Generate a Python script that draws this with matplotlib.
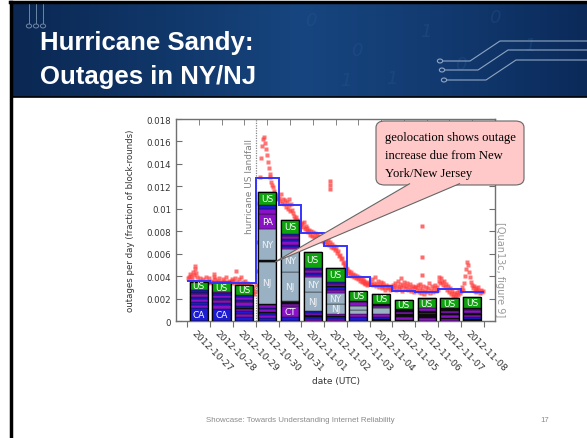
import numpy as np
import matplotlib
matplotlib.use("Agg")
import matplotlib.pyplot as plt
from matplotlib.patches import FancyBboxPatch, Polygon, Circle
from matplotlib.colors import LinearSegmentedColormap
from matplotlib.transforms import ScaledTranslation

# ---------------- data ----------------
dates = ["2012-10-27", "2012-10-28", "2012-10-29", "2012-10-30", "2012-10-31",
         "2012-11-01", "2012-11-02", "2012-11-03", "2012-11-04", "2012-11-05",
         "2012-11-06", "2012-11-07", "2012-11-08"]

# daily mean outage rate (blue step line), units 1e-3
daily_mean = [3.6, 3.43, 3.43, 12.7, 10.3, 7.8, 6.65, 3.9, 3.16, 2.7, 2.6, 2.85, 2.6]

# hourly outage samples (red points), units 1e-3, one list per day
hourly = [
    [3.8, 3.9, 4.2, 4.0, 3.7, 4.4, 4.1, 4.6, 4.9, 4.3, 3.9, 3.6, 3.5, 3.8, 3.4, 3.6, 3.7, 3.3, 3.5, 3.9, 3.6, 3.4, 3.8, 3.5],
    [3.5, 3.6, 3.4, 3.9, 4.2, 3.7, 3.5, 3.3, 3.6, 3.8, 3.4, 3.5, 3.3, 3.7, 3.6, 3.4, 3.9, 3.5, 3.3, 3.6, 3.4, 3.5, 3.7, 3.6],
    [3.6, 3.4, 3.8, 4.5, 3.5, 3.3, 3.7, 3.4, 3.9, 3.2, 3.5, 3.3, 3.6, 3.1, 3.4, 3.0, 3.3, 2.9, 3.1, 2.8, 2.6, 2.9, 2.4, 2.7],
    [3.2, 4.5, 7.0, 10.5, 12.8, 14.5, 15.6, 16.2, 16.4, 15.9, 15.3, 14.8, 14.2, 13.6, 13.1, 12.8, 12.4, 12.1, 11.9, 11.6, 11.3, 11.0, 11.2, 10.9],
    [11.0, 10.7, 11.3, 10.5, 10.9, 10.4, 10.8, 10.2, 10.6, 10.0, 10.9, 10.3, 9.8, 10.4, 9.9, 9.6, 9.4, 9.1, 9.3, 8.9, 8.7, 9.0, 8.5, 8.6],
    [8.7, 8.4, 8.8, 8.2, 8.5, 8.0, 8.3, 7.9, 8.1, 7.7, 8.0, 7.6, 7.9, 7.5, 7.8, 7.4, 7.7, 7.3, 7.6, 7.2, 7.5, 7.1, 7.4, 7.0],
    [7.3, 7.0, 7.4, 6.9, 7.2, 6.8, 7.0, 6.6, 6.9, 6.5, 6.7, 6.3, 6.5, 6.1, 6.2, 5.8, 5.9, 5.5, 5.6, 5.2, 5.3, 5.0, 4.9, 4.7],
    [4.6, 4.3, 4.5, 4.1, 4.4, 4.0, 4.2, 3.9, 4.1, 3.8, 4.0, 3.7, 3.9, 3.6, 3.8, 3.5, 3.7, 3.4, 3.6, 3.3, 3.5, 3.2, 3.4, 3.3],
    [3.5, 3.3, 3.7, 3.2, 3.4, 3.9, 3.1, 3.3, 3.6, 3.0, 3.2, 3.5, 2.9, 3.1, 3.4, 3.0, 2.8, 3.2, 3.0, 2.9, 3.1, 2.8, 3.0, 2.9],
    [3.2, 3.0, 3.4, 2.8, 3.1, 3.6, 2.9, 3.3, 3.8, 3.0, 2.7, 3.2, 3.5, 2.9, 3.1, 3.4, 2.8, 3.0, 3.3, 2.7, 2.9, 3.1, 2.6, 3.0],
    [3.0, 2.8, 3.2, 2.6, 2.9, 3.3, 2.5, 2.8, 3.1, 2.4, 2.7, 3.0, 2.6, 2.9, 3.4, 2.5, 2.8, 3.1, 2.6, 2.9, 3.2, 2.7, 3.0, 2.8],
    [3.6, 3.9, 3.4, 3.8, 3.5, 3.2, 3.6, 3.0, 3.3, 2.8, 3.1, 2.6, 2.9, 2.4, 2.7, 2.2, 2.5, 2.1, 2.4, 2.0, 2.6, 2.3, 2.8, 2.5],
    [2.7, 3.0, 2.8, 3.4, 4.0, 4.6, 5.3, 5.0, 4.4, 3.9, 3.5, 3.2, 2.9, 3.1, 2.7, 2.9, 2.6, 2.8, 3.0, 2.7, 2.5, 2.8, 2.6, 2.7],
]
# isolated outlier samples (day offset, value 1e-3)
outlier_day = [6.24, 6.25, 6.26, 10.3, 10.3, 10.31]
outlier_val = [12.5, 12.1, 11.8, 8.5, 5.7, 4.1]

# stacked per-day bars: segment heights (1e-3) and kinds, bottom to top
bar_heights = [
    [1.15, 0.3, 0.25, 0.3, 0.15, 0.25, 0.15, 0.05, 0.15, 0.75],
    [1.1, 0.3, 0.2, 0.3, 0.15, 0.25, 0.05, 0.15, 0.1, 0.85],
    [0.35, 0.25, 0.3, 0.2, 0.1, 0.15, 0.3, 0.2, 0.25, 0.25, 0.85],
    [0.3, 0.25, 0.15, 0.1, 0.25, 0.15, 0.2, 0.12, 3.78, 0.15, 2.75, 1.3, 0.5, 0.3, 1.2],
    [0.35, 1.0, 0.2, 0.1, 0.17, 2.54, 2.1, 0.15, 0.2, 0.3, 0.2, 0.25, 0.2, 1.24],
    [0.2, 0.2, 0.1, 0.2, 0.2, 1.67, 1.34, 0.2, 0.15, 0.25, 0.23, 1.41],
    [0.2, 0.15, 0.13, 0.15, 0.89, 0.98, 0.3, 0.25, 0.1, 0.15, 0.16, 1.28],
    [0.33, 0.3, 0.39, 0.35, 0.3, 0.15, 0.84],
    [0.15, 0.18, 0.3, 0.51, 0.23, 0.15, 0.9],
    [0.12, 0.21, 0.3, 0.2, 0.24, 0.83],
    [0.3, 0.3, 0.15, 0.15, 0.24, 0.89],
    [0.15, 0.15, 0.2, 0.2, 0.2, 0.26, 0.87],
    [0.15, 0.2, 0.2, 0.2, 0.2, 0.15, 0.1, 0.9],
]
bar_kinds = [
    ["CA", "p", "b", "p", "b", "p", "b", "k", "b", "US"],
    ["CA", "p", "b", "p", "b", "p", "k", "b", "p", "US"],
    ["b", "p", "b", "p", "k", "b", "p", "b", "p", "b", "US"],
    ["b", "p", "b", "k", "p", "b", "p", "k", "NJ", "k", "NY", "PA", "p", "b", "US"],
    ["b", "CT", "p", "k", "p", "NJ", "NY", "p", "b", "p", "b", "p", "b", "US"],
    ["p", "b", "k", "p", "b", "NJ", "NY", "p", "b", "p", "b", "US"],
    ["p", "b", "k", "p", "NJ", "NY", "p", "b", "k", "p", "b", "US"],
    ["b", "p", "g", "g", "p", "k", "US"],
    ["k", "b", "p", "g", "p", "k", "US"],
    ["k", "p", "k", "p", "k", "US"],
    ["p", "k", "p", "k", "p", "US"],
    ["p", "k", "p", "k", "p", "k", "US"],
    ["k", "b", "p", "k", "p", "b", "k", "US"],
]

yticks = [0, 0.002, 0.004, 0.006, 0.008, 0.010, 0.012, 0.014, 0.016, 0.018]
ytick_labels = ["0", "0.002", "0.004", "0.006", "0.008", "0.01", "0.012", "0.014", "0.016", "0.018"]

# ---------------- style ----------------
kind_color = {"b": "#1c1cd2", "p": "#8a12c6", "k": "#0c0c0c", "g": "#9ab1c3",
              "US": "#0ea30e", "CA": "#1c1cd2", "NY": "#9ab1c3", "NJ": "#9ab1c3",
              "PA": "#8a12c6", "CT": "#8a12c6"}
labelled = {"US", "CA", "NY", "NJ", "PA", "CT"}

W, H = 587, 439
fig = plt.figure(figsize=(W / 100, H / 100), dpi=100)
fig.patch.set_facecolor("white")


def fx(x):
    return x / W


def fy(y):
    return 1 - y / H


# ---------------- header ----------------
axh = fig.add_axes([fx(12), fy(98), 1 - fx(12), (98 - 4) / H])
cmap = LinearSegmentedColormap.from_list(
    "hdr", [(0, "#0b2752"), (0.25, "#103668"), (0.5, "#17457f"), (0.75, "#123a70"), (1, "#0b2a5a")])
grad = np.linspace(0, 1, 256)[None, :].repeat(2, axis=0)
axh.imshow(grad, aspect="auto", cmap=cmap, extent=[0, 1, 0, 1])
axh.set_xlim(0, 1)
axh.set_ylim(0, 1)
axh.axis("off")
# faint digits texture (kept clear of the title)
digs = [(0.52, 0.82, "0"), (0.6, 0.5, "0"), (0.66, 0.2, "1"), (0.58, 0.18, "1"),
        (0.72, 0.7, "1"), (0.78, 0.35, "0"), (0.84, 0.85, "0"), (0.9, 0.55, "1")]
for x, y, d in digs:
    axh.text(x, y, d, color="#2a5a98", fontsize=13, alpha=0.3, fontstyle="italic",
             ha="center", va="center", transform=axh.transAxes)
# circuit lines on right
for k, (yy, x0) in enumerate([(62, 440), (71, 442), (81, 444)]):
    fig.add_artist(plt.Line2D([fx(x0 + 3), fx(470 + 8 * k), fx(500 + 8 * k), fx(587)],
                              [fy(yy), fy(yy), fy(yy - 20), fy(yy - 20)],
                              color="#8fa6c4", lw=0.8, transform=fig.transFigure))
    fig.add_artist(Circle((fx(x0), fy(yy)), 0.0045, fill=False, ec="#8fa6c4", lw=0.8,
                          transform=fig.transFigure))
# decorative top-left circles
for x0 in (29, 36, 43):
    fig.add_artist(plt.Line2D([fx(x0), fx(x0)], [fy(5), fy(24)], color="#6f86a6", lw=0.7,
                              transform=fig.transFigure))
    fig.add_artist(Circle((fx(x0), fy(27)), 0.0045, fill=False, ec="#6f86a6", lw=0.7,
                          transform=fig.transFigure))
# black border lines
fig.add_artist(plt.Line2D([fx(10), fx(587)], [fy(3), fy(3)], color="black", lw=2.5,
                          transform=fig.transFigure))
fig.add_artist(plt.Line2D([fx(11), fx(11)], [fy(3), fy(439)], color="black", lw=2.5,
                          transform=fig.transFigure))
fig.add_artist(plt.Line2D([fx(11), fx(587)], [fy(98), fy(98)], color="black", lw=1.2,
                          transform=fig.transFigure))

fig.text(fx(40), fy(50), "Hurricane Sandy:", color="white", fontsize=18.5, fontweight="bold",
         family="Liberation Sans", va="baseline", ha="left")
fig.text(fx(40), fy(84), "Outages in NY/NJ", color="white", fontsize=18.5, fontweight="bold",
         family="Liberation Sans", va="baseline", ha="left")

# ---------------- chart ----------------
ax = fig.add_axes([fx(176), fy(322), (495 - 176) / W, (322 - 120) / H])
ax.set_xlim(-0.5, 13.5)
ax.set_ylim(0, 0.018)

# red samples
xs, ys = [], []
for d, vals in enumerate(hourly):
    for h, v in enumerate(vals):
        xs.append(d + (h + 0.5) / 24)
        ys.append(v * 1e-3)
ax.plot(xs, ys, "s", ms=2.6, color="#ff3a3a", alpha=0.7, mec="none", zorder=2)
ax.plot(outlier_day, np.array(outlier_val) * 1e-3, "s", ms=2.4, color="#ff3a3a", alpha=0.75,
        mec="none", zorder=2)

# stacked bars
for d, (hs, ks) in enumerate(zip(bar_heights, bar_kinds)):
    bottom = 0.0
    for h, k in zip(hs, ks):
        hv = h * 1e-3
        ax.bar(d + 0.5, hv, width=0.8, bottom=bottom, color=kind_color[k],
               edgecolor="#111111", linewidth=0.3, zorder=3)
        if k in labelled:
            tc = "#eef2f6" if k in ("NY", "NJ") else "white"
            ax.text(d + 0.5, bottom + hv / 2, k, ha="center", va="center", color=tc,
                    fontsize=6.5, zorder=5)
        bottom += hv
    ax.bar(d + 0.5, bottom, width=0.8, fill=False, edgecolor="black", linewidth=0.9, zorder=4)

# daily mean step line
ax.stairs(np.array(daily_mean) * 1e-3, np.arange(len(daily_mean) + 1), color="#3434ff",
          linewidth=1.4, zorder=6, baseline=None)

# landfall marker
ax.axvline(3.0, color="#888888", lw=0.9, ls=(0, (1, 1)), zorder=3)
ax.text(2.93, 0.0163, "hurricane US landfall", rotation=90, ha="right", va="top",
        color="#808080", fontsize=6.5, zorder=6)

# axes styling
for s in ax.spines.values():
    s.set_color("#707070")
    s.set_linewidth(1.0)
ax.set_yticks(yticks)
ax.set_yticklabels(ytick_labels)
ax.set_xticks(range(14))
ax.set_xticklabels(dates + [""])
ax.set_xticks(np.arange(0.5, 13.5, 1), minor=True)
ax.tick_params(axis="y", which="major", direction="in", left=True, right=True, length=4,
               labelsize=6.2, colors="#707070", labelcolor="#333333")
ax.tick_params(axis="x", which="major", direction="out", bottom=True, top=False, length=4,
               labelsize=6.7, colors="#707070", labelcolor="#333333", pad=1)
ax.tick_params(axis="x", which="minor", direction="in", bottom=False, top=True, length=4,
               colors="#707070")
off = ScaledTranslation(0.09, 0, fig.dpi_scale_trans)
for lab in ax.get_xticklabels():
    lab.set_rotation(-45)
    lab.set_ha("left")
    lab.set_va("top")
    lab.set_rotation_mode("anchor")
    lab.set_transform(lab.get_transform() + off)
ax.set_ylabel("outages per day (fraction of block-rounds)", fontsize=6.2, color="#333333",
              labelpad=8)
ax.set_xlabel("date (UTC)", fontsize=6.5, color="#333333", labelpad=2)
ax.xaxis.set_label_coords(0.5, -0.27)

fig.text(fx(500), fy(270), "[Quan13c, figure 9]", rotation=-90, ha="center", va="center",
         color="#9a9a9a", fontsize=7)

# ---------------- callout ----------------
box = FancyBboxPatch((fx(376), fy(186)), fx(524) - fx(376), fy(122) - fy(186),
                     boxstyle="round,pad=0,rounding_size=0.015", fc="#ffc9c9", ec="#666666",
                     lw=0.8, transform=fig.transFigure, zorder=10)
fig.add_artist(box)
wedge = Polygon([(fx(410), fy(184.5)), (fx(275), fy(263)), (fx(460), fy(184.5))], closed=False,
                fc="#ffc9c9", ec="#666666", lw=0.8, transform=fig.transFigure, zorder=11)
fig.add_artist(wedge)
fig.text(fx(385), fy(131.5), "geolocation shows outage\nincrease due from New\nYork/New Jersey",
         family="Liberation Serif", fontsize=9.1, va="top", ha="left", color="black",
         linespacing=1.72, zorder=12)

# ---------------- footer ----------------
fig.text(fx(300), fy(421), "Showcase: Towards Understanding Internet Reliability",
         family="Liberation Sans", fontsize=5.7, color="#8a8a8a", ha="center", va="center")
fig.text(fx(545), fy(421), "17", family="Liberation Sans", fontsize=5.7, color="#8a8a8a",
         ha="center", va="center")

fig.savefig("out.png", dpi=100)
